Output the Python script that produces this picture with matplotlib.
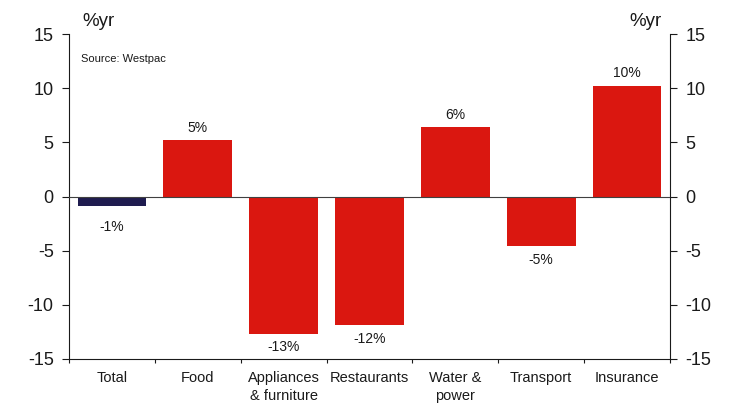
import matplotlib
matplotlib.use("Agg")
import matplotlib.pyplot as plt
import numpy as np

categories = ["Total", "Food", "Appliances\n& furniture", "Restaurants", "Water &\npower", "Transport", "Insurance"]
values = [-0.9, 5.2, -12.65, -11.9, 6.4, -4.6, 10.2]
labels = ["-1%", "5%", "-13%", "-12%", "6%", "-5%", "10%"]
colors = ["#1F1C4F", "#DA1710", "#DA1710", "#DA1710", "#DA1710", "#DA1710", "#DA1710"]
yticks = [-15, -10, -5, 0, 5, 10, 15]

plt.rcParams['font.family'] = ['Liberation Sans', 'DejaVu Sans']
fig = plt.figure(figsize=(7.33, 4.03), dpi=100)
ax = fig.add_axes([0.0941, 0.1092, 0.8199, 0.8064])
x = np.arange(len(categories))
ax.bar(x, values, width=0.8, color=colors, zorder=2)
ax.axhline(0, color="#404040", lw=0.8, zorder=3)
ax.set_xlim(-0.5, len(categories) - 0.5)
ax.set_ylim(-15, 15)
ax.set_yticks(yticks)
ax.set_yticklabels([str(t) for t in yticks], fontsize=13, color="#1a1a1a")
ax.tick_params(axis='y', which='both', direction='out', length=5, width=0.8, labelright=True, right=True, pad=6, colors="#1a1a1a")
ax.set_xticks(x)
ax.set_xticklabels(categories, fontsize=10.5, color="#1a1a1a", linespacing=1.3)
ax.tick_params(axis='x', length=0, pad=9)
ax.set_xticks(np.arange(len(categories) + 1) - 0.5, minor=True)
ax.tick_params(axis='x', which='minor', length=3, width=0.8, direction='out', color="#1a1a1a")
for s in ["left", "right", "bottom"]:
    ax.spines[s].set_color("#1a1a1a")
    ax.spines[s].set_linewidth(0.8)
ax.spines["top"].set_visible(False)

for xi, v, lab in zip(x, values, labels):
    if v >= 0:
        ax.annotate(lab, (xi, v), xytext=(0, 4), textcoords="offset points", ha="center", va="bottom", fontsize=10, color="#1a1a1a")
    else:
        ax.annotate(lab, (xi, min(v, -1.5)), xytext=(0, -5), textcoords="offset points", ha="center", va="top", fontsize=10, color="#1a1a1a")

fig.text(0.112, 0.925, "%yr", fontsize=13.5, color="#1a1a1a", va="bottom", ha="left")
fig.text(0.903, 0.925, "%yr", fontsize=13.5, color="#1a1a1a", va="bottom", ha="right")
ax.text(0.02, 0.94, "Source: Westpac", transform=ax.transAxes, fontsize=8, color="#1a1a1a", va="top", ha="left")

fig.savefig("out.png", dpi=100)
